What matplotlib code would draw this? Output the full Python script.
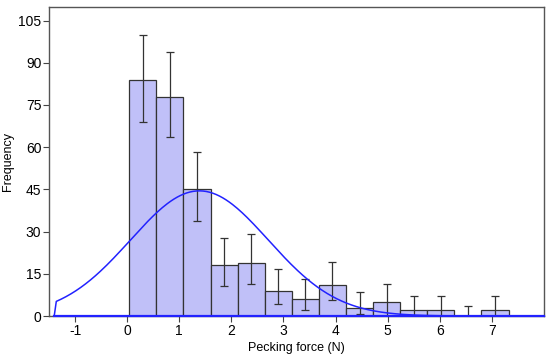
import numpy as np
import matplotlib.pyplot as plt

plt.rcParams['font.family'] = ['Liberation Sans', 'DejaVu Sans']
plt.rcParams['axes.unicode_minus'] = False

# histogram of pecking force
bin_left = [0.04, 0.56, 1.08, 1.60, 2.12, 2.64, 3.16, 3.68, 4.20, 4.72, 5.24, 5.76, 6.28, 6.80]
bin_width = 0.52
counts = [84, 78, 45, 18, 19, 9, 6, 11, 3, 5, 2, 2, 0, 2]
err_low = [69, 63.5, 33.7, 10.7, 11.4, 4.3, 2.2, 5.6, 0.8, 0, 0, 0, 0, 0]
err_high = [100, 94, 58.4, 27.8, 29.1, 16.8, 13.2, 19.3, 8.6, 11.4, 7.1, 7.1, 3.5, 7.1]

counts = np.array(counts, dtype=float)
centers = np.array(bin_left) + bin_width / 2
lo = counts - np.array(err_low)
hi = np.array(err_high) - counts

# normal fit to the binned data
n = counts.sum()
mu = (counts * centers).sum() / n
sd = np.sqrt((counts * (centers - mu) ** 2).sum() / n)
xs = np.linspace(-1.36, 8.0, 300)
ys = n * bin_width / (sd * np.sqrt(2 * np.pi)) * np.exp(-(xs - mu) ** 2 / (2 * sd ** 2))
xs = np.concatenate([[-1.40], xs])
ys = np.concatenate([[0], ys])

fig = plt.figure(figsize=(5.5, 3.54), dpi=100)
ax = fig.add_axes([49/550, 1 - 316/354, (544-49)/550, (316-6.5)/354])

ax.bar(bin_left, counts, width=bin_width, align='edge', color='#c0c0f8',
       edgecolor='#333333', linewidth=0.9, zorder=2)
ax.errorbar(centers, counts, yerr=[lo, hi], fmt='none', ecolor='#333333',
            elinewidth=0.9, capsize=3, capthick=0.9, zorder=3)
ax.plot(xs, ys, color='#2222ff', lw=1.1, zorder=4)
ax.plot([-1.40, 8.0], [0, 0], color='#2222ff', lw=1.6, zorder=4, clip_on=False)

ax.set_xlim(-1.5, 8.0)
ax.set_ylim(0, 110)
ax.set_xticks(range(-1, 8))
ax.set_yticks(range(0, 106, 15))
ax.tick_params(labelsize=10, length=4, width=0.8, color='#444444', pad=1.5)
for s in ax.spines.values():
    s.set_color('#555555')
    s.set_linewidth(1.0)

ax.set_xlabel('Pecking force (N)', fontsize=9, labelpad=3)
ax.set_ylabel('Frequency', fontsize=9, labelpad=3)

fig.savefig('out.png', dpi=100)
